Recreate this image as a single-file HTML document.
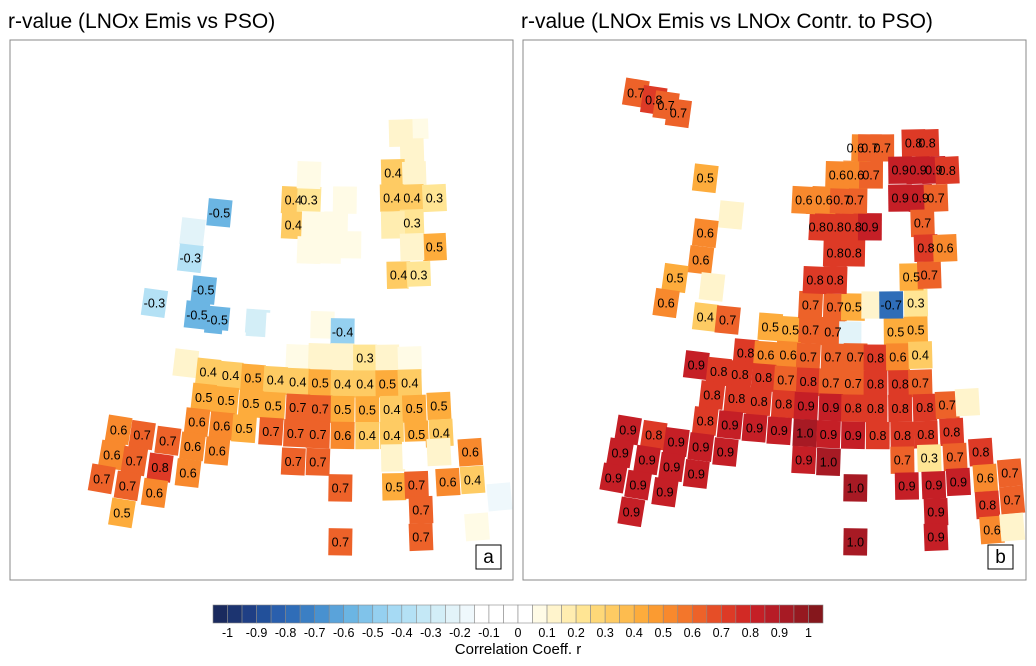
<!DOCTYPE html>
<html><head><meta charset="utf-8"><style>
html,body{margin:0;padding:0;background:#fff;}
svg{display:block;font-family:"Liberation Sans",sans-serif;}
</style></head><body>
<svg id="chart" width="1036" height="666" viewBox="0 0 1036 666">
<defs>
<clipPath id="clipA"><rect x="10" y="40" width="503" height="540"/></clipPath>
<clipPath id="clipB"><rect x="523" y="40" width="503" height="540"/></clipPath>
</defs>
<text x="8" y="28" font-size="21">r-value (LNOx Emis vs PSO)</text>
<text x="521" y="28" font-size="21">r-value (LNOx Emis vs LNOx Contr. to PSO)</text>
<g id="cellsA" clip-path="url(#clipA)"></g>
<g id="cellsB" clip-path="url(#clipB)"></g>
<rect x="10" y="40" width="503" height="540" fill="none" stroke="#888" stroke-width="1"/>
<rect x="523" y="40" width="503" height="540" fill="none" stroke="#888" stroke-width="1"/>
<g><rect x="476" y="545" width="25" height="24" fill="#fff" stroke="#000"/><text x="488.5" y="563" font-size="19" text-anchor="middle">a</text></g>
<g><rect x="988" y="545" width="25" height="24" fill="#fff" stroke="#000"/><text x="1000.5" y="563" font-size="19" text-anchor="middle">b</text></g>
<g id="colorbar"></g>
<text x="518" y="654" font-size="15" text-anchor="middle">Correlation Coeff. r</text>
</svg>
<script>
// ---- Panel a data (grid column, grid row, r value) ----
const gxA = [2.3,1.6,3.0,2.1,1.25,2.2,3.3,1.2,2.1,3.1,2.1,1.25,3.1,2.1,1.5,2.4,
 -3.2,-2.5,-3.2,-2.3,-1.3,-2.5,-0.9,-1.6,-0.9,-0.7,-1.6,-2.5,-1.6,-2.5,
 -2.9,-1.9,-2.9,-1.9,2.5,-4.8,-3.9,-1.0,1.6,
 -6.5,-7.7,-7.8,-9.15,-9.4,-7.2,-7.5,-6.6,
 -3.0,-2.0,-1.0,0,1.0,2.0,-5.9,-8.0,
 -7,-6,-5,-4,-3,-2,-1,0,1,2,
 -7.2,-6.2,-5.1,-4.1,-3,-2,-1,0.1,1.2,2.2,3.3,
 -7.5,-6.4,-5.4,-4.2,-3.1,-2.1,-1,0.1,1.2,2.3,3.4,
 -11.0,-9.95,-8.8,-7.7,-6.6,-11.3,-10.3,-9.15,-7.9,-11.75,-10.6,-9.4,-10.85,
 -3.2,-2.1,-1.1,-1.1,
 1.25,2.2,3.3,4.7,1.3,2.3,3.7,4.8,2.5,2.5,5.0,6.0];
const gyA = [-9.7,-9.7,-8.9,-8.95,-8.17,-8.05,-8.19,-7.2,-7.17,-7.12,-6.2,-6.15,-5.22,-5.27,-4.2,-4.17,
 -7.03,-7.07,-6.06,-6.11,-6.14,-8.04,-8.28,-9.17,-7.12,-5.39,-5.17,-5.13,-4.0,-3.97,
 -3.18,-3.23,-2.21,-2.26,-3.2,-2.15,-2.07,-2.01,-2.07,
 -6.24,-5.34,-4.31,-3.37,-2.32,-3.16,-2.15,-2.07,
 -0.92,-1.01,-1.04,-1.0,-0.99,-0.89,-1.19,-0.21,
 0,0,0,0,0,0,0,0,0,0,
 1,1,1,1,1,1,1,1,1,1,0.95,
 2,2,2,2,2,2,2,2,2,2,2,
 2.9,2.9,2.92,2.97,3.0,3.94,3.97,4.02,4.03,4.96,4.99,5.04,6.09,
 3.1,3.06,4.04,6.13,
 2.88,2.8,2.74,2.85,4.0,3.96,3.93,3.93,4.94,5.99,5.77,4.71];
const valA = [0.15,0.2,0.05,0.2,0.4,0.2,0.1,0.4,0.4,0.3,0.3,0.25,0.5,0.2,0.4,0.3,
 0.4,0.3,0.4,0.15,0.15,0.15,0.1,0.1,0.15,0.15,0.15,0.15,0.1,0.1,
 0.1,0.1,0.1,0.15,0.05,-0.2,-0.05,-0.4,0.1,
 -0.5,-0.15,-0.3,-0.05,-0.3,-0.5,-0.5,-0.5,
 0.15,0.2,0.2,0.3,0.2,0.15,0.1,0.2,
 0.4,0.4,0.5,0.4,0.4,0.5,0.4,0.4,0.5,0.4,
 0.5,0.5,0.5,0.5,0.7,0.7,0.5,0.5,0.4,0.5,0.5,
 0.6,0.6,0.5,0.7,0.7,0.7,0.6,0.4,0.4,0.5,0.4,
 0.6,0.7,0.7,0.6,0.6,0.6,0.7,0.8,0.6,0.7,0.7,0.6,0.5,
 0.7,0.7,0.7,0.7,
 0.2,0.05,0.2,0.6,0.5,0.7,0.6,0.4,0.7,0.7,0.15,-0.1];

// ---- Panel b data ----
const gxB = [-10.9,-10.1,-9.55,-9.0,-7.8,-6.65,-7.8,-8.0,-9.15,-9.55,-7.5,-7.8,-6.8,
 -4.9,-4.0,-3.1,-2.1,-1.3,-0.3,0.7,1.6,
 -3.1,-2.0,-1.2,-0.3,0.5,1.6,1.4,2.2,-2.9,-2.0,-2.0,-1.2,
 -2.8,-2.0,-1.2,-0.45,-3.7,-2.8,-3.4,-2.5,-1.7,-1.1,-1.9,-1.1,-0.4,-1.1,-0.45,0.1,-1.8,
 1.5,2.1,0.9,1.7,2.4,3.0,0.9,1.8,2.5,1.9,2.05,2.9,
 -6.0,-5.1,-4.1,-3.2,-2.1,-1.1,-0.2,0.8,1.8,
 -8.2,-7.2,-6.25,-5.2,-4.2,-3.2,-2.2,-1.2,-0.2,0.9,1.8,
 -7.5,-6.4,-5.4,-4.3,-3.3,-2.2,-1.2,-0.2,0.9,2.0,3.0,3.9,
 -7.8,-6.7,-5.6,-4.5,-3.35,-2.3,-1.2,-0.1,1.0,2.05,3.2,
 -11.25,-10.1,-9.1,-8.0,-6.9,-11.6,-10.4,-9.3,-8.2,-11.9,-10.8,-9.6,-11.1,
 -3.4,-2.3,-1.1,-1.1,
 1.0,2.2,3.35,4.5,1.2,2.4,3.5,4.7,5.8,2.5,2.5,4.8,5.9,5.0,5.9];
const gyB = [-10.18,-10.05,-9.95,-9.75,-7.41,-6.14,-5.28,-4.21,-3.33,-2.29,-3.24,-2.03,-2.05,
 -1.99,-1.94,-2.0,-1.98,-1.88,-1.9,-2.02,-2.07,
 -2.97,-2.94,-2.97,-3.06,-3.06,-3.12,-4.13,-4.18,-3.95,-3.99,-5.04,-5.07,
 -6.02,-6.05,-6.08,-6.09,-5.96,-8.11,-7.02,-7.07,-7.1,-7.12,-8.07,-8.09,-8.1,-9.14,-9.15,-9.15,-9.16,
 -9.32,-9.3,-8.28,-8.26,-8.24,-8.2,-7.2,-7.18,-7.15,-6.2,-5.23,-5.19,
 -0.87,-0.88,-0.97,-0.95,-1.0,-1.04,-1.0,-1.04,-1.09,
 -0.11,0,0,0,0,0,0,0,0,0,0,
 0.95,0.95,0.95,0.95,0.95,0.95,0.95,0.95,0.95,0.95,0.9,0.85,
 2.0,2.0,2.0,2.0,2.0,2.0,2.0,2.0,2.0,2.0,1.95,
 2.96,2.93,3.02,3.04,3.08,3.92,3.95,4.02,4.11,4.96,5.0,5.05,6.1,
 3.05,3.07,4.04,6.13,
 2.96,2.92,2.93,2.83,3.97,3.97,3.91,3.85,3.76,5.02,5.99,4.9,4.82,5.89,5.87];
const valB = [0.7,0.8,0.7,0.7,0.5,0.2,0.6,0.6,0.5,0.6,0.2,0.4,0.7,
 0.5,0.5,0.7,0.7,-0.15,0,0.5,0.5,
 0.7,0.7,0.5,0.2,-0.7,0.3,0.5,0.7,0.8,0.8,0.8,0.8,
 0.8,0.8,0.8,0.9,0.1,0.1,0.6,0.6,0.7,0.7,0.6,0.6,0.7,0.6,0.7,0.7,0.05,
 0.8,0.8,0.9,0.9,0.9,0.8,0.9,0.9,0.7,0.7,0.8,0.6,
 0.8,0.6,0.6,0.7,0.7,0.7,0.8,0.6,0.4,
 0.9,0.8,0.8,0.8,0.7,0.8,0.7,0.7,0.8,0.8,0.7,
 0.8,0.8,0.8,0.8,0.9,0.9,0.8,0.8,0.8,0.8,0.7,0.2,
 0.8,0.9,0.9,0.9,1.0,0.9,0.9,0.8,0.8,0.8,0.8,
 0.9,0.8,0.9,0.9,0.9,0.9,0.9,0.9,0.9,0.9,0.9,0.9,0.9,
 0.9,1.0,1.0,1.0,
 0.7,0.3,0.7,0.8,0.9,0.9,0.9,0.6,0.7,0.9,0.9,0.8,0.7,0.6,0.2];

// ---- Colour scale ----
const cbLabels = ["-1","-0.9","-0.8","-0.7","-0.6","-0.5","-0.4","-0.3","-0.2","-0.1","0","0.1","0.2","0.3","0.4","0.5","0.6","0.7","0.8","0.9","1"];
const palette = ["#1a2a5e","#1c3470","#1f3f85","#22509a","#2a5fad","#2f6db8","#3b7fc4","#4891d0","#5aa3da","#6bb5e3",
 "#80c3ea","#95d0f0","#a6daf4","#b4e1f5","#c4e8f6","#d3eef7","#e2f3f9","#eff8fc","#ffffff","#ffffff",
 "#ffffff","#ffffff","#fffbe6","#fff4cc","#ffedb0","#ffe594","#fed878","#fecb63","#fdbc4f","#fdac3c",
 "#fb9b31","#f8892d","#f3762b","#ed6229","#e64e27","#dd3a26","#d22a25","#c51f26","#b71c26","#a71a24",
 "#961920","#85171c"];

const NS = "http://www.w3.org/2000/svg";
const CX = 365, CY = 384, DX = 22.4, DY = 25.8, CURV = 0.24;
function px(gx){ return CX + DX*gx; }
function py(gx, gy){ return CY + DY*gy - CURV*gx*gx; }
function colorOf(v){
  let i = Math.floor((v+1)/0.05 - 0.5);
  i = Math.max(0, Math.min(palette.length-1, i));
  return palette[i];
}
function drawPanel(gid, offX, gxs, gys, vals){
  const g = document.getElementById(gid);
  for (let k=0;k<gxs.length;k++){
    const x = px(gxs[k]) + offX, y = py(gxs[k], gys[k]);
    const ang = 0.7*Math.atan(-2*CURV*gxs[k]/DX)*180/Math.PI;
    const r = document.createElementNS(NS,"rect");
    r.setAttribute("x", x-DX/2-0.7); r.setAttribute("y", y-DY/2-0.7);
    r.setAttribute("width", DX+1.4); r.setAttribute("height", DY+1.4);
    r.setAttribute("fill", colorOf(vals[k]));
    r.setAttribute("transform", "rotate("+ang.toFixed(2)+" "+x+" "+y+")");
    
    
    g.appendChild(r);
  }
  for (let k=0;k<gxs.length;k++){
    if (Math.abs(vals[k]) < 0.3 - 1e-9) continue;
    const x = px(gxs[k]) + offX, y = py(gxs[k], gys[k]);
    const t = document.createElementNS(NS,"text");
    t.setAttribute("x", x); t.setAttribute("y", y+4.5);
    t.setAttribute("font-size","12.5"); t.setAttribute("text-anchor","middle");
    t.textContent = vals[k].toFixed(1);
    
    
    g.appendChild(t);
  }
}
drawPanel("cellsA", 0, gxA, gyA, valA);
drawPanel("cellsB", 515, gxB, gyB, valB);

// colorbar
(function(){
  const g = document.getElementById("colorbar");
  const x0 = 213, w = 610/palette.length, y0 = 605, h = 18;
  palette.forEach((c,i)=>{
    const r = document.createElementNS(NS,"rect");
    r.setAttribute("x", x0+i*w); r.setAttribute("y", y0);
    r.setAttribute("width", w); r.setAttribute("height", h);
    r.setAttribute("fill", c); r.setAttribute("stroke", "#888"); r.setAttribute("stroke-width","0.6");
    
    
    g.appendChild(r);
  });
  cbLabels.forEach((s,i)=>{
    const t = document.createElementNS(NS,"text");
    t.setAttribute("x", x0 + w*(1+2*i)); t.setAttribute("y", 637);
    t.setAttribute("font-size","12.5"); t.setAttribute("text-anchor","middle");
    t.textContent = s;
    
    
    g.appendChild(t);
  });
})();
</script>
</body></html>
